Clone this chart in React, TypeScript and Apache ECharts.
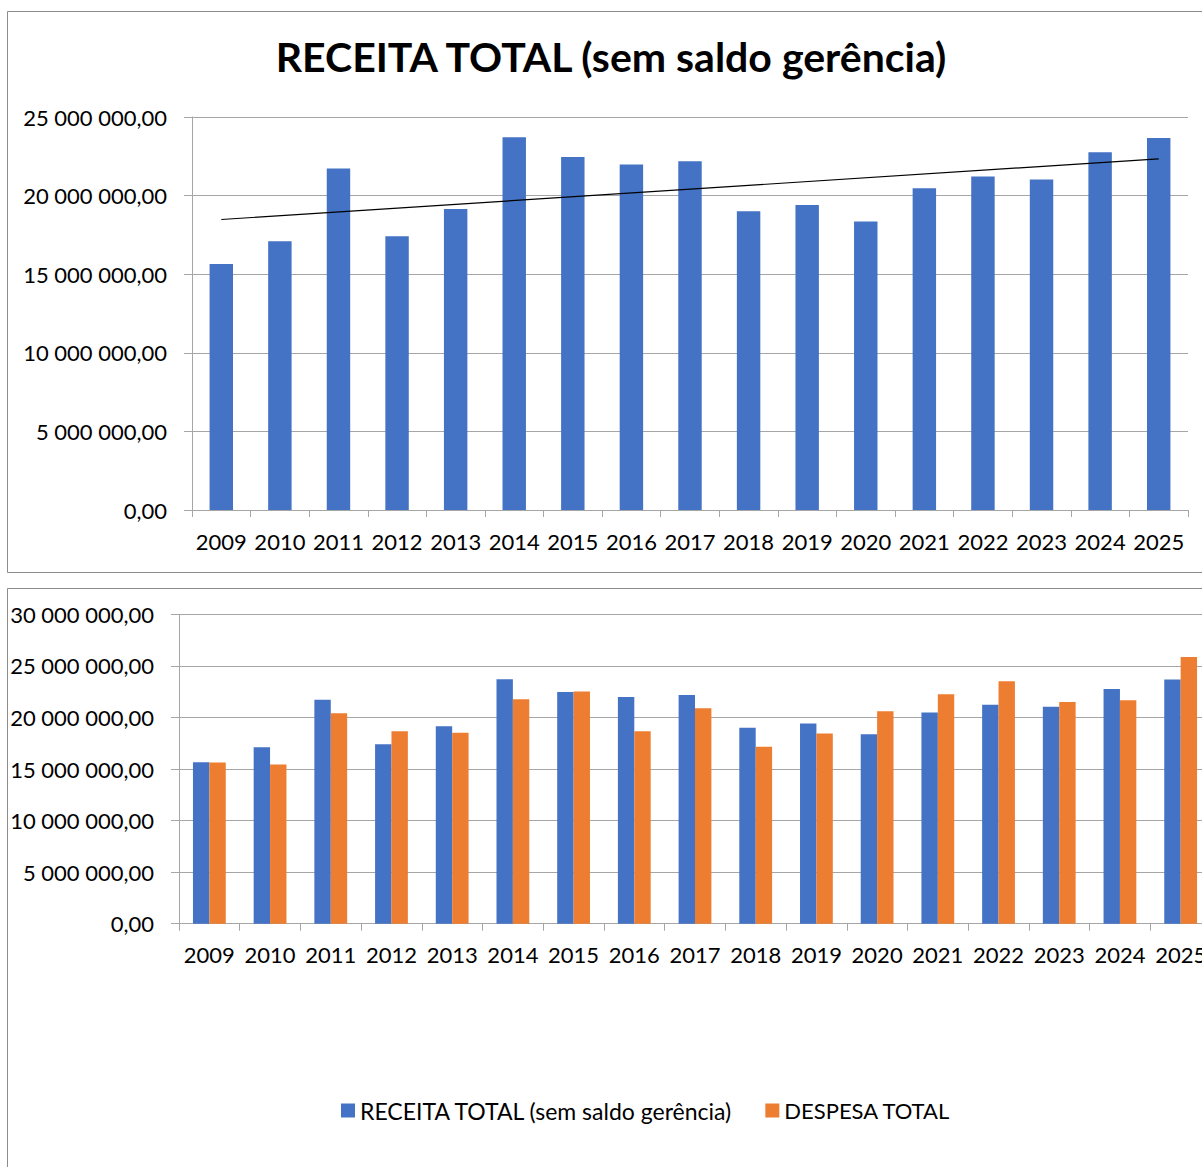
import React, { useEffect, useRef } from "react";
import * as echarts from "echarts";

const years = ["2009","2010","2011","2012","2013","2014","2015","2016","2017","2018","2019","2020","2021","2022","2023","2024","2025"];
const receita = [15650000,17100000,21720000,17410000,19140000,23710000,22460000,21980000,22180000,19000000,19400000,18360000,20470000,21220000,21030000,22760000,23670000];
const despesa = [15630000,15440000,20400000,18650000,18520000,21760000,22510000,18650000,20900000,17160000,18450000,20590000,22250000,23510000,21500000,21660000,25850000];
// trend line end points (2009 and 2025)
const trendEnds = [18480000, 22340000];
const topTicks = { min: 0, max: 25000000, interval: 5000000 };
const bottomTicks = { min: 0, max: 30000000, interval: 5000000 };

const NAME_R = "RECEITA TOTAL (sem saldo gerência)";
const NAME_D = "DESPESA TOTAL";
const BLUE = "#4472C4";
const ORANGE = "#ED7D31";
const GRID = "#a6a6a6";
const FONT = "Lato";

function fmt(v: number): string {
  const s = Math.round(v).toString();
  const parts: string[] = [];
  for (let i = s.length; i > 0; i -= 3) parts.unshift(s.slice(Math.max(0, i - 3), i));
  return parts.join(" ") + ",00";
}

export default function App() {
  const ref = useRef<HTMLDivElement>(null);
  useEffect(() => {
    if (!ref.current) return;
    const chart = echarts.init(ref.current, null, { renderer: "svg" });
    const trendData = years.map((_, i) => (i === 0 ? trendEnds[0] : i === years.length - 1 ? trendEnds[1] : null));
    const xAxisCommon = (gridIndex: number, margin: number) => ({
      type: "category",
      gridIndex,
      data: years,
      boundaryGap: true,
      axisLine: { show: true, lineStyle: { color: GRID, width: 1 } },
      axisTick: { show: true, length: 7, lineStyle: { color: GRID } },
      axisLabel: { fontFamily: FONT, fontSize: 22, color: "#000", margin, interval: 0 },
      splitLine: { show: false },
    });
    const yAxisCommon = (gridIndex: number, t: any) => ({
      type: "value",
      gridIndex,
      min: t.min,
      max: t.max,
      interval: t.interval,
      axisLine: { show: true, lineStyle: { color: GRID, width: 1 } },
      axisTick: { show: true, length: 8, lineStyle: { color: GRID } },
      axisLabel: { fontFamily: FONT, fontSize: 22, color: "#000", margin: 25, formatter: (v: number) => fmt(v) },
      splitLine: { show: true, lineStyle: { color: GRID, width: 1 } },
    });
    chart.setOption({
      animation: false,
      backgroundColor: "#fff",
      title: {
        text: "RECEITA TOTAL (sem saldo gerência)",
        left: 606,
        textAlign: "center",
        top: 31,
        textStyle: { fontFamily: FONT, fontSize: 41, fontWeight: "bold", color: "#000" },
      },
      graphic: [
        { type: "rect", shape: { x: 7.5, y: 11.5, width: 1250, height: 561 }, style: { fill: "none", stroke: "#8c8c8c", lineWidth: 1 }, silent: true, z: -10 },
        { type: "rect", shape: { x: 7.5, y: 588.5, width: 1250, height: 700 }, style: { fill: "none", stroke: "#8c8c8c", lineWidth: 1 }, silent: true, z: -10 },
      ],
      legend: {
        data: [
          { name: NAME_R, textStyle: { fontSize: 23 } },
          { name: NAME_D, textStyle: { fontSize: 22 } },
        ],
        left: 336,
        top: 1094,
        icon: "rect",
        itemWidth: 14,
        itemHeight: 14,
        itemGap: 32,
        textStyle: { fontFamily: FONT, fontSize: 23, color: "#000" },
        selectedMode: false,
      },
      grid: [
        { left: 192, top: 117, width: 996, height: 393, containLabel: false, outerBoundsMode: "none" },
        { left: 179, top: 614.3, width: 1032, height: 309.4, containLabel: false, outerBoundsMode: "none" },
      ],
      xAxis: [xAxisCommon(0, 20), xAxisCommon(1, 20)],
      yAxis: [yAxisCommon(0, topTicks), yAxisCommon(1, bottomTicks)],
      series: [
        {
          name: NAME_R,
          type: "bar",
          xAxisIndex: 0,
          yAxisIndex: 0,
          data: receita,
          barCategoryGap: "60%",
          itemStyle: { color: BLUE },
        },
        {
          name: "Linear",
          type: "line",
          xAxisIndex: 0,
          yAxisIndex: 0,
          data: trendData,
          connectNulls: true,
          symbol: "none",
          lineStyle: { color: "#000", width: 1.2 },
          z: 5,
        },
        {
          name: NAME_R,
          type: "bar",
          xAxisIndex: 1,
          yAxisIndex: 1,
          data: receita,
          barGap: "0%",
          barCategoryGap: "46%",
          itemStyle: { color: BLUE },
        },
        {
          name: NAME_D,
          type: "bar",
          xAxisIndex: 1,
          yAxisIndex: 1,
          data: despesa,
          barGap: "0%",
          barCategoryGap: "46%",
          itemStyle: { color: ORANGE },
        },
      ],
    });
    return () => chart.dispose();
  }, []);
  return (
    <div
      ref={ref}
      style={{ position: "absolute", left: 0, top: 0, width: 1202, height: 1167, overflow: "hidden" }}
    />
  );
}
